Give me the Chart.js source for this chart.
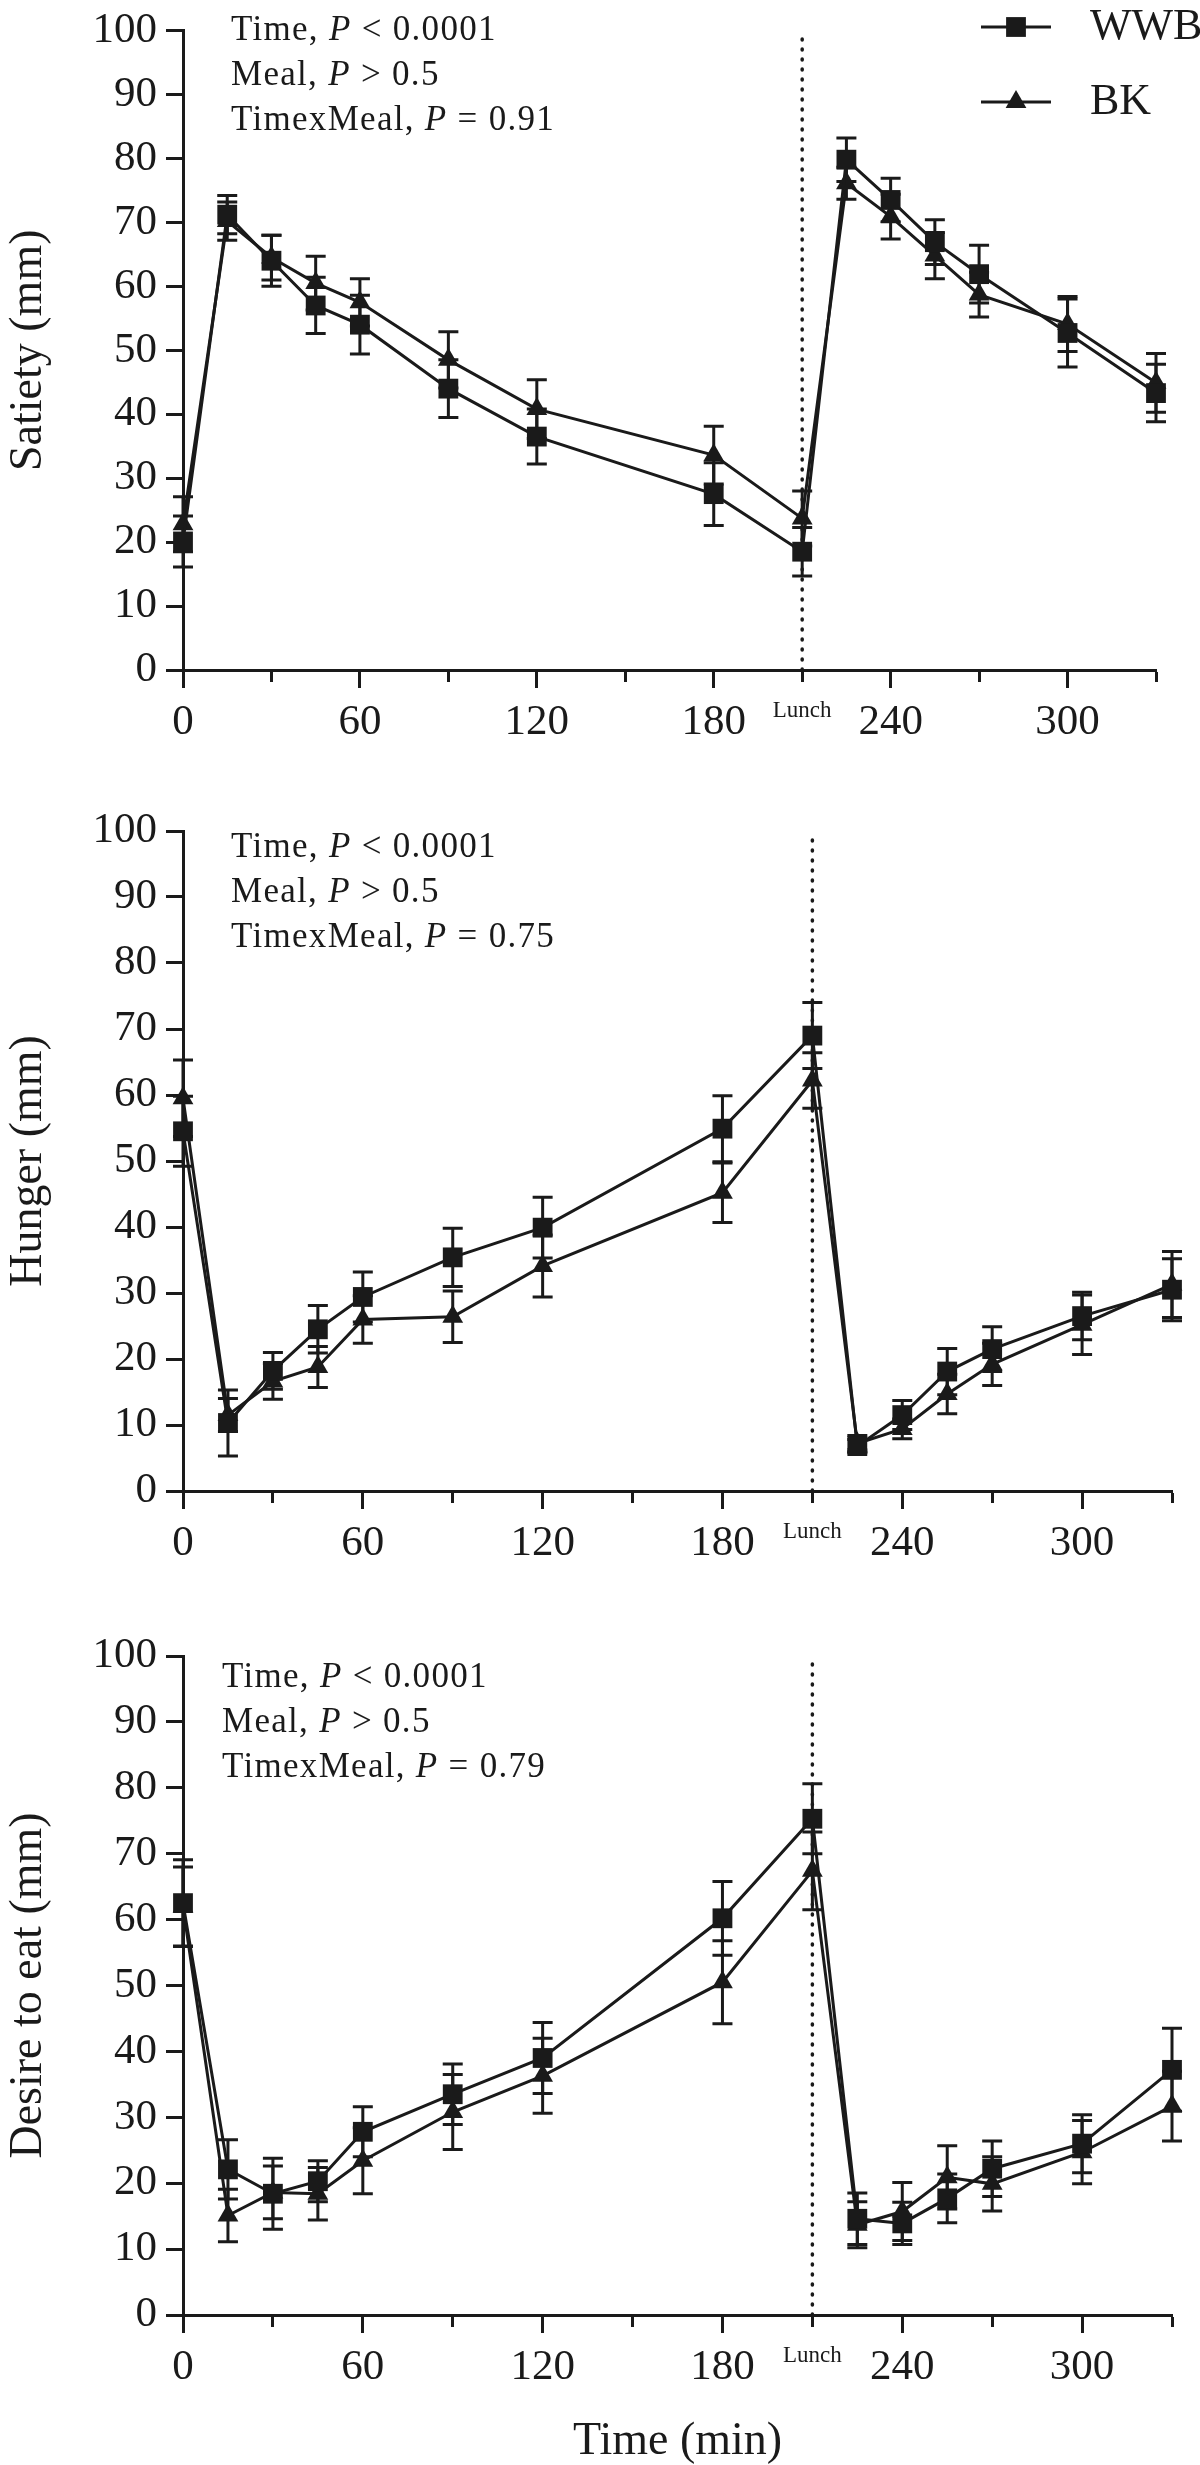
<!doctype html>
<html>
  <head>
    <meta charset="utf-8" />
    <title>Satiety, hunger and desire to eat after WWB and BK breakfasts</title>
    <script src="https://cdn.jsdelivr.net/npm/chart.js@4.4.1/dist/chart.umd.min.js"></script>
    <style>
html, body {
  margin: 0;
  padding: 0;
  background: #fff;
}
body {
  position: relative;
  width: 1200px;
  height: 2465px;
  overflow: hidden;
  font-family: "Liberation Serif", "Times New Roman", serif;
  color: #1a1a1a;
}
canvas {
  position: absolute;
  left: 0;
}
.stats {
  position: absolute;
  font-size: 35px;
  line-height: 45px;
  letter-spacing: 1.3px;
  white-space: nowrap;
}
    </style>
  </head>
  <body>
    <canvas id="satiety" width="1200" height="770" style="top:0px;width:1200px;height:770px"></canvas>
    <canvas id="hunger" width="1200" height="820" style="top:770px;width:1200px;height:820px"></canvas>
    <canvas id="desire" width="1200" height="875" style="top:1590px;width:1200px;height:875px"></canvas>

    <div class="stats" style="left:231px;top:6px">Time, <i>P</i> &lt; 0.0001<br>Meal, <i>P</i> &gt; 0.5<br>TimexMeal, <i>P</i> = 0.91</div>
    <div class="stats" style="left:231px;top:823px">Time, <i>P</i> &lt; 0.0001<br>Meal, <i>P</i> &gt; 0.5<br>TimexMeal, <i>P</i> = 0.75</div>
    <div class="stats" style="left:222px;top:1653px">Time, <i>P</i> &lt; 0.0001<br>Meal, <i>P</i> &gt; 0.5<br>TimexMeal, <i>P</i> = 0.79</div>

    <script>
      // minutes after breakfast
      const times = [0, 15, 30, 45, 60, 90, 120, 180, 210, 225, 240, 255, 270, 300, 330];
      const lunchTime = 210;

      const xTicks = [0, 30, 60, 90, 120, 150, 180, 210, 240, 270, 300, 330];
      const xTickLabels = ['0', '', '60', '', '120', '', '180', 'Lunch', '240', '', '300', ''];
      const yTicks = [0, 10, 20, 30, 40, 50, 60, 70, 80, 90, 100];

      // means and SEM (mm)
      const satietyWWB    = [20.1, 71.2, 64.0, 57.0, 54.0, 44.0, 36.5, 27.5, 18.5, 79.8, 73.5, 66.9, 61.9, 52.7, 43.3];
      const satietyWWBsem = [4.0, 3.0, 4.0, 4.4, 4.6, 4.5, 4.3, 4.9, 3.8, 3.4, 3.4, 3.5, 4.5, 5.3, 4.5];
      const satietyBK     = [22.8, 70.2, 64.5, 60.5, 57.5, 48.5, 40.8, 33.6, 23.7, 76.1, 70.9, 64.8, 58.7, 54.1, 44.9];
      const satietyBKsem  = [4.3, 3.0, 3.5, 4.2, 3.7, 4.4, 4.6, 4.5, 4.3, 2.5, 3.5, 3.6, 3.5, 4.3, 4.6];

      const hungerWWB     = [54.5, 10.3, 18.2, 24.5, 29.4, 35.4, 39.9, 54.9, 69.0, 6.8, 11.5, 18.1, 21.5, 26.5, 30.5];
      const hungerWWBsem  = [5.3, 5.0, 2.8, 3.6, 3.8, 4.4, 4.6, 5.0, 5.0, 1.0, 2.2, 3.5, 3.4, 3.6, 4.7];
      const hungerBK      = [59.5, 11.5, 16.6, 18.8, 26.0, 26.4, 34.1, 45.2, 62.2, 7.2, 9.4, 14.7, 19.2, 25.2, 31.3];
      const hungerBKsem   = [5.8, 2.5, 2.7, 3.1, 3.6, 3.9, 4.7, 4.5, 4.2, 1.2, 1.5, 3.0, 3.2, 4.5, 5.0];

      const desireWWB     = [62.5, 22.1, 18.4, 20.3, 27.8, 33.5, 39.0, 60.2, 75.3, 14.6, 13.9, 17.7, 22.2, 26.0, 37.2];
      const desireWWBsem  = [6.6, 4.5, 5.4, 3.1, 3.8, 4.6, 5.4, 5.6, 5.3, 3.9, 3.2, 3.7, 4.2, 4.4, 6.3];
      const desireBK      = [62.0, 15.1, 18.6, 18.4, 23.4, 30.8, 36.3, 50.5, 67.4, 13.7, 15.7, 20.9, 19.9, 24.7, 31.7];
      const desireBKsem   = [6.0, 4.0, 4.0, 4.0, 5.0, 5.7, 5.7, 6.3, 5.9, 3.5, 4.4, 4.8, 4.1, 4.8, 5.3];

      const ink = '#1a1a1a';
      const serif = '"Liberation Serif", "Times New Roman", serif';
      Chart.defaults.font.family = serif;
      Chart.defaults.color = ink;

      const toPoints = (vals) => vals.map((v, i) => ({x: times[i], y: v}));

      // vertical SEM bars, drawn under the markers
      const errorBars = {
        id: 'errorBars',
        beforeDatasetsDraw(chart) {
          const {ctx, scales: {x, y}} = chart;
          ctx.save();
          ctx.strokeStyle = ink;
          ctx.lineWidth = 3;
          chart.data.datasets.forEach((ds) => {
            if (!ds.sem) return;
            ds.data.forEach((p, i) => {
              const px = x.getPixelForValue(p.x);
              const hi = y.getPixelForValue(p.y + ds.sem[i]);
              const lo = y.getPixelForValue(p.y - ds.sem[i]);
              ctx.beginPath();
              ctx.moveTo(px, hi); ctx.lineTo(px, lo);
              ctx.moveTo(px - 10, hi); ctx.lineTo(px + 10, hi);
              ctx.moveTo(px - 10, lo); ctx.lineTo(px + 10, lo);
              ctx.stroke();
            });
          });
          ctx.restore();
        }
      };

      // legend with a line through the marker, like the original
      const lineLegend = {
        id: 'lineLegend',
        afterDraw(chart, args, opts) {
          if (!opts.show) return;
          const ctx = chart.ctx;
          chart.data.datasets.filter((ds) => ds.label).forEach((ds, i) => {
            const cy = opts.rowY[i];
            ctx.save();
            ctx.strokeStyle = ink;
            ctx.fillStyle = ink;
            ctx.lineWidth = 3;
            ctx.beginPath();
            ctx.moveTo(opts.lineX0, cy);
            ctx.lineTo(opts.lineX1, cy);
            ctx.stroke();
            Chart.helpers.drawPoint(ctx, {pointStyle: ds.pointStyle, radius: ds.pointRadius, rotation: 0, borderWidth: 0},
              (opts.lineX0 + opts.lineX1) / 2, cy);
            ctx.font = '44px ' + serif;
            ctx.textBaseline = 'middle';
            ctx.textAlign = 'left';
            ctx.fillText(ds.label, opts.textX, cy);
            ctx.restore();
          });
        }
      };

      function makePanel(id, p) {
        const canvas = document.getElementById(id);
        const datasets = [
          {
            label: 'WWB', data: toPoints(p.wwb), sem: p.wwbSem,
            borderColor: ink, borderWidth: 3, pointStyle: 'rect', pointRadius: 14,
            pointBackgroundColor: ink, pointBorderWidth: 0, clip: false, order: 0,
          },
          {
            label: 'BK', data: toPoints(p.bk), sem: p.bkSem,
            borderColor: ink, borderWidth: 3, pointStyle: 'triangle', pointRadius: 12,
            pointBackgroundColor: ink, pointBorderWidth: 0, clip: false, order: 1,
          },
          {
            data: [{x: lunchTime, y: 0}, {x: lunchTime, y: 100}],
            borderColor: ink, borderWidth: 3.5, borderDash: [1, 9], borderCapStyle: 'round',
            pointRadius: 0, clip: false, order: 5,
          },
        ];
        return new Chart(canvas, {
          type: 'line',
          data: {datasets},
          plugins: [errorBars, lineLegend],
          options: {
            responsive: false,
            animation: false,
            events: [],
            devicePixelRatio: 1,
            layout: {padding: {left: 0, top: p.areaTop, right: 1200 - p.areaRight, bottom: 0}},
            plugins: {
              legend: {display: false},
              tooltip: {enabled: false},
              lineLegend: p.legend || {show: false},
            },
            scales: {
              x: {
                type: 'linear', min: 0, max: 330,
                afterBuildTicks: (s) => { s.ticks = xTicks.map((v) => ({value: v})); },
                afterFit: (s) => { s.height = p.xAxisHeight; },
                grid: {
                  drawOnChartArea: false, tickLength: 18, tickWidth: 3, tickColor: ink,
                  tickBorderDash: (c) => (c.tick && c.tick.value % 60 === 0) ? [] : [10, 100],
                },
                border: {display: true, width: 3, color: ink},
                ticks: {
                  autoSkip: false, maxRotation: 0, padding: 9, color: ink,
                  callback: (v, i) => xTickLabels[i],
                  font: (c) => (c.tick && c.tick.value === lunchTime)
                    ? {family: serif, size: 23, lineHeight: 1.2}
                    : {family: serif, size: 43, lineHeight: 1.2},
                },
                title: {
                  display: !!p.xTitle, text: p.xTitle || '', color: ink,
                  font: {family: serif, size: 46, lineHeight: 1}, padding: 0,
                },
              },
              y: {
                min: 0, max: 100,
                afterBuildTicks: (s) => { s.ticks = yTicks.map((v) => ({value: v})); },
                afterFit: (s) => { s.width = 183; },
                grid: {drawOnChartArea: false, tickLength: 17, tickWidth: 3, tickColor: ink},
                border: {display: true, width: 3, color: ink},
                ticks: {padding: 9, color: ink, font: {family: serif, size: 43, lineHeight: 1}},
                title: {
                  display: true, text: p.yTitle, color: ink,
                  font: {family: serif, size: 46, lineHeight: 1.2}, padding: {top: 1, bottom: 0},
                },
              },
            },
          },
        });
      }

      makePanel('satiety', {
        wwb: satietyWWB, wwbSem: satietyWWBsem, bk: satietyBK, bkSem: satietyBKsem,
        yTitle: 'Satiety (mm)', areaTop: 22.7, areaRight: 1156, xAxisHeight: 100,
        legend: {show: true, lineX0: 981, lineX1: 1051, textX: 1090, rowY: [27, 102]},
      });
      makePanel('hunger', {
        wwb: hungerWWB, wwbSem: hungerWWBsem, bk: hungerBK, bkSem: hungerBKsem,
        yTitle: 'Hunger (mm)', areaTop: 61, areaRight: 1172, xAxisHeight: 99,
      });
      makePanel('desire', {
        wwb: desireWWB, wwbSem: desireWWBsem, bk: desireBK, bkSem: desireBKsem,
        yTitle: 'Desire to eat (mm)', areaTop: 66, areaRight: 1172, xAxisHeight: 150,
        xTitle: 'Time (min)',
      });
    </script>
  </body>
</html>
